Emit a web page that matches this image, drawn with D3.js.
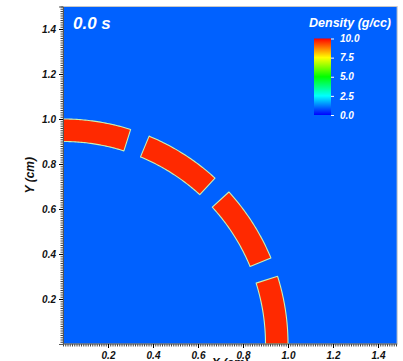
<!DOCTYPE html>
<html>
<head>
<meta charset="utf-8">
<script src="https://cdn.jsdelivr.net/npm/d3@7"></script>
<style>
  body { margin: 0; background: #fff; }
  svg { display: block; }
  .tick-label { font-family: "Liberation Sans", Arial, sans-serif; font-weight: bold; font-style: italic; }
</style>
</head>
<body>
<div id="chart"></div>
<script>
// ---- data ----
// shell segments (degrees from the +x axis), radii in cm
const segStart = [90, 67.5, 42.5, 17.5];
const segEnd = [72.5, 47.5, 22.5, 0];
const innerRadius = 0.9;
const outerRadius = 1.0;
// densities (g/cc)
const backgroundDensity = 0.95;
const shellDensity = 9.6;
// ticks
const axisTicks = [0.2, 0.4, 0.6, 0.8, 1.0, 1.2, 1.4];
const colorStops = [0, 2.5, 5, 7.5, 10];
const colorStopColors = ["#0000ff", "#00ffff", "#00ff00", "#ffff00", "#ff0000"];
const legendTicks = [0.0, 2.5, 5.0, 7.5, 10.0];
const timeLabel = "0.0 s";

const W = 403, H = 361;
const margin = {left: 63, top: 6.5, right: 2.5, bottom: 17};

let svg = d3.select("#chart").append("svg")
    .attr("width", W)
    .attr("height", H);

let x = d3.scaleLinear().domain([0, 1.5]).range([margin.left, margin.left + 337.5]);
let y = d3.scaleLinear().domain([0, 1.5]).range([H - margin.bottom, margin.top]);
let color = d3.scaleLinear().domain(colorStops).range(colorStopColors);

let xMax = 1.485;

// background field
svg.append("rect")
    .attr("x", x(0))
    .attr("y", y(1.5))
    .attr("width", x(xMax) - x(0))
    .attr("height", y(0) - y(1.5))
    .attr("fill", color(backgroundDensity))
    .attr("stroke", "#c8c8c8")
    .attr("stroke-width", 1);

// shell segments
let line = d3.line().x(d => x(d[0])).y(d => y(d[1]));
function segPoints(a0, a1) {
    let pts = [];
    let n = 40;
    for (let i = 0; i <= n; i++) {
        let a = (a0 + (a1 - a0) * i / n) * Math.PI / 180;
        pts.push([outerRadius * Math.cos(a), outerRadius * Math.sin(a)]);
    }
    for (let i = n; i >= 0; i--) {
        let a = (a0 + (a1 - a0) * i / n) * Math.PI / 180;
        pts.push([innerRadius * Math.cos(a), innerRadius * Math.sin(a)]);
    }
    return pts;
}

svg.append("clipPath").attr("id", "plotclip")
    .append("rect")
    .attr("x", x(0)).attr("y", y(1.5))
    .attr("width", x(xMax) - x(0)).attr("height", y(0) - y(1.5));

svg.append("g")
    .attr("clip-path", "url(#plotclip)")
    .selectAll(".seg")
    .data(segStart.map((s, i) => segPoints(s, segEnd[i])))
    .enter()
    .append("path")
    .attr("class", "seg")
    .attr("d", d => line(d) + "Z")
    .attr("fill", color(shellDensity))
    .attr("stroke", "#c6f2b4")
    .attr("stroke-width", 1.1)
    .attr("stroke-linejoin", "round");

// axes
let minorTicks = d3.range(0, 1.5001, 0.01);

let xAxis = svg.append("g")
    .attr("transform", "translate(0," + y(0) + ")");
xAxis.call(d3.axisBottom(x).tickValues(minorTicks).tickSize(2.5).tickFormat(""));
xAxis.call(g => g.select(".domain").remove());
xAxis.selectAll(".tick").filter(d => d > xMax).remove();
xAxis.selectAll("line").attr("stroke", "#444");
let xAxisMajor = svg.append("g")
    .attr("transform", "translate(0," + y(0) + ")")
    .call(d3.axisBottom(x).tickValues(axisTicks).tickSize(4).tickPadding(4).tickFormat(d3.format(".1f")));
xAxisMajor.select(".domain").attr("stroke", "#555").attr("d", "M" + x(0) + ",0H" + x(xMax));
xAxisMajor.selectAll("text")
    .attr("class", "tick-label")
    .attr("font-size", "10px")
    .attr("fill", "#111");

let yAxis = svg.append("g")
    .attr("transform", "translate(" + x(0) + ",0)");
yAxis.call(d3.axisLeft(y).tickValues(minorTicks).tickSize(2.5).tickFormat(""));
yAxis.call(g => g.select(".domain").remove());
yAxis.selectAll("line").attr("stroke", "#444");
let yAxisMajor = svg.append("g")
    .attr("transform", "translate(" + x(0) + ",0)")
    .call(d3.axisLeft(y).tickValues(axisTicks).tickSize(4).tickPadding(3).tickFormat(d3.format(".1f")));
yAxisMajor.select(".domain").attr("stroke", "#555");
yAxisMajor.selectAll("text")
    .attr("class", "tick-label")
    .attr("font-size", "10px")
    .attr("fill", "#111");

// axis titles
svg.append("text")
    .attr("class", "tick-label")
    .attr("transform", "translate(34," + ((y(0) + y(1.5)) / 2) + ") rotate(-90)")
    .attr("text-anchor", "middle")
    .attr("font-size", "12px")
    .attr("fill", "#111")
    .text("Y (cm)");

svg.append("text")
    .attr("class", "tick-label")
    .attr("x", (x(0) + x(xMax)) / 2)
    .attr("y", 367)
    .attr("text-anchor", "middle")
    .attr("font-size", "12px")
    .attr("fill", "#111")
    .text("X (cm)");

// time label
svg.append("text")
    .attr("class", "tick-label")
    .attr("x", 73)
    .attr("y", 29)
    .attr("font-size", "17px")
    .attr("fill", "#fff")
    .text(timeLabel);

// colour legend
let legY = d3.scaleLinear().domain([0, 10]).range([115, 38.5]);
let legX = 314, legW = 17;

let grad = svg.append("defs").append("linearGradient")
    .attr("id", "densgrad")
    .attr("x1", 0).attr("y1", 1).attr("x2", 0).attr("y2", 0);
grad.selectAll("stop")
    .data(colorStops)
    .enter()
    .append("stop")
    .attr("offset", d => d / 10)
    .attr("stop-color", d => color(d));

svg.append("rect")
    .attr("x", legX)
    .attr("y", legY(10))
    .attr("width", legW)
    .attr("height", legY(0) - legY(10))
    .attr("fill", "url(#densgrad)");

let legAxis = svg.append("g")
    .attr("transform", "translate(" + (legX + legW) + ",0)")
    .call(d3.axisRight(legY).tickValues(legendTicks).tickSize(3).tickPadding(6).tickFormat(d3.format(".1f")));
legAxis.select(".domain").remove();
legAxis.selectAll("line").attr("stroke", "#fff");
legAxis.selectAll("text")
    .attr("class", "tick-label")
    .attr("font-size", "10px")
    .attr("fill", "#fff");

svg.append("text")
    .attr("class", "tick-label")
    .attr("x", 391)
    .attr("y", 27)
    .attr("text-anchor", "end")
    .attr("font-size", "12.5px")
    .attr("fill", "#fff")
    .text("Density (g/cc)");
</script>
</body>
</html>
